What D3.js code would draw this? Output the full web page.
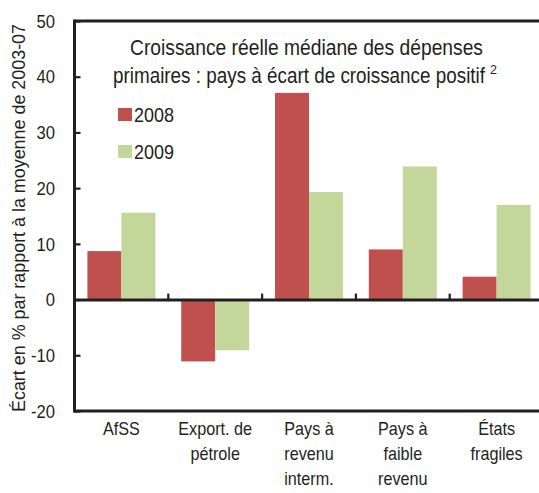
<!DOCTYPE html>
<html>
<head>
<meta charset="utf-8">
<script src="https://cdn.jsdelivr.net/npm/d3@7"></script>
<style>
  body { margin: 0; background: #fff; }
  text { font-family: "Liberation Sans Narrow", "Liberation Sans", Arial, sans-serif; fill: #231F20; }
</style>
</head>
<body>
<div id="chart"></div>
<script>
// chart values
const categories = [
  ["AfSS"],
  ["Export. de", "pétrole"],
  ["Pays à", "revenu", "interm."],
  ["Pays à", "faible", "revenu"],
  ["États", "fragiles"]
];
const years = ["2008", "2009"];
const values2008 = [8.7, -11.1, 37.1, 9.0, 4.1];
const values2009 = [15.6, -9.1, 19.3, 23.9, 17.0];
const yTicks = [-20, -10, 0, 10, 20, 30, 40, 50];
const colors = {"2008": "#C0504D", "2009": "#C4D79B"};

const width = 539;
const height = 493;
const margin = {left: 74.5, right: -4.5, top: 21, bottom: 82};

const svg = d3.select("#chart")
  .append("svg")
  .attr("width", width)
  .attr("height", height);

const rows = categories.map((c, i) => ({key: i, label: c, "2008": values2008[i], "2009": values2009[i]}));

// scales
const x = d3.scaleBand()
  .domain(rows.map(d => d.key))
  .range([margin.left, width - margin.right])
  .padding(0);

const xSub = d3.scaleBand()
  .domain(years)
  .range([0, x.bandwidth()])
  .paddingInner(0)
  .paddingOuter(0.38);

const y = d3.scaleLinear()
  .domain([-20, 50])
  .range([height - margin.bottom, margin.top]);

// bars
svg.append("g")
  .selectAll("g")
  .data(rows)
  .enter()
  .append("g")
  .attr("transform", d => `translate(${x(d.key)},0)`)
  .selectAll("rect")
  .data(d => years.map(k => ({k: k, v: d[k]})))
  .enter()
  .append("rect")
    .attr("x", d => xSub(d.k))
    .attr("width", xSub.bandwidth())
    .attr("y", d => y(Math.max(0, d.v)))
    .attr("height", d => Math.abs(y(d.v) - y(0)))
    .attr("fill", d => colors[d.k]);

// left axis with inward ticks
const yAxis = svg.append("g")
  .attr("transform", `translate(${margin.left},0)`)
  .call(d3.axisRight(y).tickValues(yTicks).tickSize(6).tickFormat(""));
yAxis.select(".domain").remove();
yAxis.selectAll("line").attr("stroke", "#231F20").attr("stroke-width", 2.2);

svg.append("g")
  .selectAll("text")
  .data(yTicks)
  .enter()
  .append("text")
    .attr("transform", d => `translate(55,${y(d)}) scale(0.9,1)`)
    .attr("dy", "0.36em")
    .attr("text-anchor", "end")
    .attr("font-size", "18.5px")
    .text(d => d);

// frame: left, top, bottom
svg.append("line")
  .attr("x1", margin.left).attr("x2", margin.left)
  .attr("y1", y(50) - 1.5).attr("y2", y(-20) + 1.5)
  .attr("stroke", "#231F20").attr("stroke-width", 3);
svg.append("line")
  .attr("x1", margin.left).attr("x2", width)
  .attr("y1", y(50)).attr("y2", y(50))
  .attr("stroke", "#231F20").attr("stroke-width", 3);
svg.append("line")
  .attr("x1", margin.left).attr("x2", width)
  .attr("y1", y(-20)).attr("y2", y(-20))
  .attr("stroke", "#231F20").attr("stroke-width", 3);

// zero line with category ticks
const xAxis = svg.append("g")
  .attr("transform", `translate(0,${y(0)})`)
  .call(d3.axisTop(x).tickSize(0).tickFormat(""));
xAxis.select(".domain").attr("stroke", "#231F20").attr("stroke-width", 3);
xAxis.selectAll(".tick").remove();

svg.append("g")
  .selectAll("line")
  .data(rows.slice(1))
  .enter()
  .append("line")
    .attr("x1", d => x(d.key)).attr("x2", d => x(d.key))
    .attr("y1", y(0)).attr("y2", y(0) - 6)
    .attr("stroke", "#231F20").attr("stroke-width", 2.2);

// category labels
svg.append("g")
  .selectAll("text")
  .data(rows)
  .enter()
  .append("text")
    .attr("transform", d => `translate(${x(d.key) + x.bandwidth() / 2},435) scale(0.9,1)`)
    .attr("text-anchor", "middle")
    .attr("font-size", "18px")
    .selectAll("tspan")
    .data(d => d.label)
    .enter()
    .append("tspan")
      .attr("x", 0)
      .attr("dy", (d, i) => i === 0 ? 0 : 25)
      .text(d => d);

// title
svg.append("text")
  .attr("x", 306.5).attr("y", 55)
  .attr("text-anchor", "middle")
  .attr("font-size", "21.5px")
  .attr("textLength", 353).attr("lengthAdjust", "spacingAndGlyphs")
  .text("Croissance réelle médiane des dépenses");
svg.append("text")
  .attr("x", 113).attr("y", 83)
  .attr("font-size", "21.5px")
  .attr("textLength", 372).attr("lengthAdjust", "spacingAndGlyphs")
  .text("primaires : pays à écart de croissance positif");
svg.append("text")
  .attr("x", 490).attr("y", 74)
  .attr("font-size", "12.5px")
  .text("2");

// legend
const legend = svg.append("g")
  .selectAll("g")
  .data(years)
  .enter()
  .append("g")
  .attr("transform", (d, i) => `translate(118,${108 + i * 37})`);
legend.append("rect")
  .attr("width", 14).attr("height", 13)
  .attr("fill", d => colors[d]);
legend.append("text")
  .attr("x", 16).attr("y", 13.5)
  .attr("font-size", "19.5px")
  .attr("textLength", 40).attr("lengthAdjust", "spacingAndGlyphs")
  .text(d => d);

// y axis title
svg.append("text")
  .attr("transform", "translate(25,218) rotate(-90)")
  .attr("text-anchor", "middle")
  .attr("font-size", "17.5px")
  .attr("textLength", 388).attr("lengthAdjust", "spacingAndGlyphs")
  .text("Écart en % par rapport à la moyenne de 2003-07");
</script>
</body>
</html>
